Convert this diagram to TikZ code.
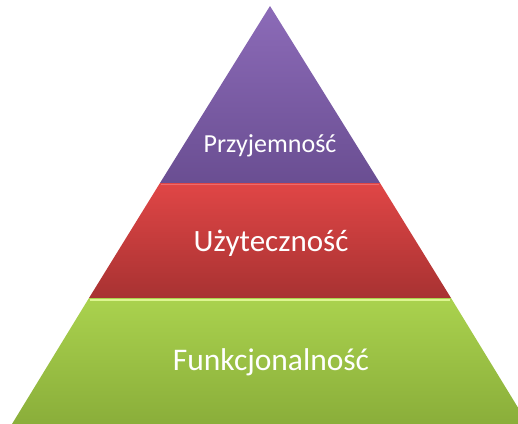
\documentclass[tikz,border=0pt]{standalone}
\usepackage{fontspec}
\setmainfont{Carlito}
\definecolor{purpTop}{HTML}{8C6BB8}
\definecolor{purpBot}{HTML}{6A4E92}
\definecolor{redTop}{HTML}{E04646}
\definecolor{redBot}{HTML}{A83232}
\definecolor{grnTop}{HTML}{AAD24E}
\definecolor{grnBot}{HTML}{8AAE3A}
\definecolor{grnHi}{HTML}{DDF590}
\definecolor{redHi}{HTML}{EE6A6A}
\tikzset{
  lbl/.style={text=white, inner sep=0pt, anchor=center},
}
\begin{document}
\begin{tikzpicture}[x=1pt,y=-1pt]
\useasboundingbox (0,0) rectangle (518,423);
\clip (0,0) rectangle (518,423);
% apex (270,6), half-width slope 0.62
\shade[top color=purpTop, bottom color=purpBot] (270,6) -- (380,183) -- (160,183) -- cycle;
\shade[top color=redTop, bottom color=redBot] (160,183) -- (380,183) -- (451,298) -- (89,298) -- cycle;
\shade[top color=grnTop, bottom color=grnBot] (89,298) -- (451,298) -- (528,424) -- (12,424) -- cycle;
\draw[redHi, line width=1.5pt] (161,184.5) -- (379,184.5);
\draw[grnHi, line width=2pt] (90,299.5) -- (450,299.5);
\node[lbl, font=\fontsize{26}{30}\selectfont] (p) at (270,146) {Przyjemność};
\node[lbl, font=\fontsize{31}{36}\selectfont] (u) at (271,243) {Użyteczność};
\node[lbl, font=\fontsize{31.5}{36}\selectfont] (f) at (271,362) {Funkcjonalność};
\end{tikzpicture}
\end{document}
